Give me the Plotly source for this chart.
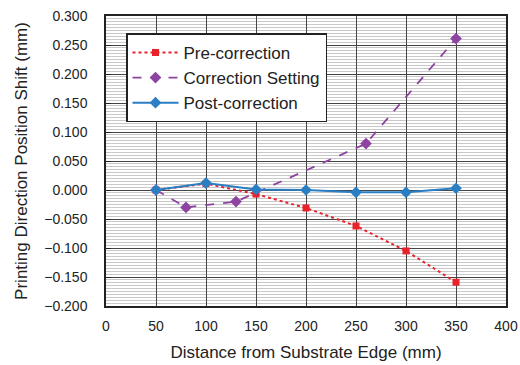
import plotly.graph_objects as go

pre_x = [50, 100, 150, 200, 250, 300, 350]
pre_y = [0.000, 0.011, -0.007, -0.031, -0.062, -0.105, -0.159]

set_x = [50, 80, 130, 260, 350]
set_y = [0.000, -0.030, -0.020, 0.080, 0.261]

post_x = [50, 100, 150, 200, 250, 300, 350]
post_y = [0.000, 0.012, 0.001, 0.000, -0.004, -0.004, 0.003]

y_ticks = [0.300, 0.250, 0.200, 0.150, 0.100, 0.050, 0.000, -0.050, -0.100, -0.150, -0.200]
y_labels = [("\u2212" if v < 0 else "") + f"{abs(v):.3f}" for v in y_ticks]
x_ticks = [0, 50, 100, 150, 200, 250, 300, 350, 400]

fig = go.Figure()
fig.add_trace(go.Scatter(x=pre_x, y=pre_y, name="Pre-correction", mode="lines+markers",
                         line=dict(color="#e8212b", width=2, dash="dot"),
                         marker=dict(symbol="square", size=7, color="#e8212b")))
fig.add_trace(go.Scatter(x=set_x, y=set_y, name="Correction Setting", mode="lines+markers",
                         line=dict(color="#8e43a0", width=1.8, dash="dash"),
                         marker=dict(symbol="diamond", size=9, color="#8e43a0")))
fig.add_trace(go.Scatter(x=post_x, y=post_y, name="Post-correction", mode="lines+markers",
                         line=dict(color="#2a7fc4", width=2),
                         marker=dict(symbol="diamond", size=9, color="#2a7fc4")))

fig.update_layout(
    width=520, height=365,
    margin=dict(l=106, r=14, t=16, b=59),
    paper_bgcolor="white", plot_bgcolor="white",
    font=dict(family="Liberation Sans, Arial, sans-serif", size=14, color="#222"),
    showlegend=True,
    legend=dict(x=0.05, y=0.94, xanchor="left", yanchor="top",
                bgcolor="white", bordercolor="#222", borderwidth=1.5,
                font=dict(size=17, color="#222"), tracegroupgap=0, itemwidth=46),
    xaxis=dict(range=[0, 400], tickmode="array", tickvals=x_ticks,
               showgrid=True, gridcolor="#444", gridwidth=1,
               showline=True, linecolor="#222", linewidth=1.5, mirror=True,
               ticks="", zeroline=False, ticklabelstandoff=6,
               ticklabeloverflow="allow", automargin=False,
               title=dict(text="Distance from Substrate Edge (mm)", font=dict(size=17), standoff=14)),
    yaxis=dict(range=[-0.2, 0.3], tickmode="array", tickvals=y_ticks, ticktext=y_labels,
               showgrid=True, gridcolor="#444", gridwidth=1,
               minor=dict(dtick=0.005, showgrid=True, gridcolor="#c8c8c8", gridwidth=1),
               showline=True, linecolor="#222", linewidth=1.5, mirror=True,
               ticks="inside", ticklen=5, tickcolor="#222", zeroline=False,
               ticklabelstandoff=14, automargin=False,
               title=dict(text="Printing Direction Position Shift (mm)", font=dict(size=17), standoff=12)),
)

fig.write_html("out.html", config={"displayModeBar": False},
               post_script="document.body.style.margin='0';document.body.style.overflow='hidden';")
